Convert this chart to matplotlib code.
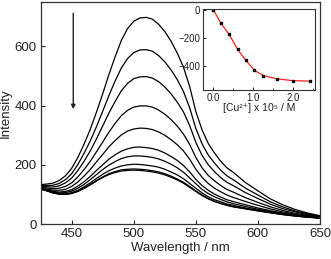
import matplotlib
matplotlib.use("Agg")
import matplotlib.pyplot as plt
from matplotlib.ticker import MultipleLocator

plt.rcParams['font.family'] = ['Liberation Sans', 'DejaVu Sans']

wavelength = [425, 430, 435, 440, 445, 450, 455, 460, 465, 470, 475, 480, 485, 490,
              495, 500, 505, 510, 515, 520, 525, 530, 535, 540, 545, 550, 555, 560,
              565, 570, 575, 580, 590, 600, 610, 620, 630, 640, 650]

spectra = [
    [133, 135, 138, 147, 163, 188, 225, 270, 320, 378, 440, 505, 565, 620, 660, 685, 696, 698, 692, 675, 650, 618, 578, 530, 465, 380, 318, 272, 240, 212, 190, 175, 140, 112, 85, 65, 49, 37, 28],
    [130, 130, 131, 137, 150, 170, 201, 239, 281, 329, 381, 434, 483, 527, 559, 579, 588, 589, 584, 569, 548, 521, 488, 448, 393, 323, 271, 233, 206, 182, 163, 150, 121, 98, 75, 58, 44, 34, 26],
    [127, 126, 125, 129, 139, 155, 181, 212, 247, 288, 331, 375, 414, 450, 475, 491, 497, 498, 493, 481, 463, 440, 412, 379, 333, 276, 232, 200, 177, 157, 141, 130, 106, 86, 67, 52, 41, 32, 25],
    [124, 122, 119, 121, 127, 139, 159, 184, 212, 244, 277, 310, 340, 366, 384, 395, 399, 399, 395, 385, 371, 353, 331, 304, 269, 225, 190, 164, 146, 130, 117, 108, 89, 73, 58, 46, 36, 29, 23],
    [122, 118, 114, 114, 117, 127, 142, 162, 184, 210, 235, 261, 282, 301, 314, 321, 324, 323, 319, 311, 300, 285, 268, 247, 219, 185, 158, 137, 121, 109, 98, 90, 76, 63, 51, 41, 33, 27, 22],
    [120, 116, 110, 108, 110, 116, 128, 143, 161, 181, 200, 219, 234, 246, 254, 259, 260, 258, 255, 249, 240, 228, 215, 198, 176, 151, 130, 114, 101, 91, 82, 76, 65, 54, 45, 37, 30, 25, 21],
    [119, 114, 108, 105, 106, 111, 121, 134, 150, 167, 184, 199, 211, 221, 227, 230, 230, 228, 225, 220, 212, 202, 190, 175, 156, 136, 117, 103, 92, 83, 75, 69, 59, 50, 42, 35, 29, 24, 21],
    [119, 113, 106, 103, 102, 106, 114, 126, 139, 154, 168, 180, 189, 196, 200, 202, 201, 199, 196, 192, 185, 176, 166, 153, 137, 121, 105, 92, 82, 75, 68, 63, 54, 47, 40, 33, 28, 24, 20],
    [118, 112, 105, 101, 100, 104, 111, 121, 134, 147, 159, 170, 177, 183, 185, 186, 185, 183, 180, 176, 170, 162, 152, 141, 127, 112, 98, 86, 77, 70, 64, 59, 52, 45, 38, 32, 27, 23, 20],
    [118, 112, 105, 101, 100, 103, 110, 120, 132, 145, 157, 167, 174, 179, 181, 182, 181, 179, 176, 172, 166, 158, 149, 138, 124, 110, 96, 85, 76, 69, 63, 58, 51, 44, 38, 32, 27, 23, 20],
]

cu_conc = [0.0, 0.19, 0.39, 0.61, 0.82, 1.03, 1.26, 1.59, 2.0, 2.44]
delta_i = [0, -96, -173, -283, -363, -433, -472, -494, -508, -511]

xticks = [450, 500, 550, 600, 650]
yticks = [0, 200, 400, 600]

fig = plt.figure(figsize=(3.31, 2.59), dpi=100)
ax = fig.add_axes([0.1227, 0.1351, 0.9668 - 0.1227, 0.9923 - 0.1351])
for s in spectra:
    ax.plot(wavelength, s, color='black', lw=0.9)
ax.set_xlim(425, 650)
ax.set_ylim(0, 750)
ax.set_xticks(xticks)
ax.set_yticks(yticks)
ax.tick_params(direction='in', length=3, width=0.8, labelsize=9.5, colors='#222222', pad=3)
ax.set_xlabel('Wavelength / nm', fontsize=9.5, color='#222222', labelpad=1)
ax.set_ylabel('Intensity', fontsize=9.5, color='#222222', labelpad=2)
for sp in ax.spines.values():
    sp.set_linewidth(0.9)
    sp.set_color('#333333')

ax.annotate('', xy=(451.3, 388), xytext=(451.3, 712),
            arrowprops=dict(arrowstyle='-|>', color='#222222', lw=1.0,
                            mutation_scale=6, shrinkA=0, shrinkB=0))

ins = fig.add_axes([0.6124, 0.6525, 0.9517 - 0.6124, 0.9653 - 0.6525])
ins.plot(cu_conc, delta_i, color='#ff2020', lw=0.9)
ins.plot(cu_conc, delta_i, 's', color='black', ms=1.6, lw=0)
ins.set_xlim(-0.27, 2.56)
ins.set_ylim(-575, 7)
ins.set_xticks([0.0, 1.0, 2.0])
ins.set_xticklabels(['0.0', '1.0', '2.0'])
ins.xaxis.set_minor_locator(MultipleLocator(0.5))
ins.set_yticks([0, -200, -400])
ins.tick_params(which='both', direction='in', labelsize=7, colors='#222222', pad=2)
ins.tick_params(which='major', length=2.5, width=0.7)
ins.tick_params(which='minor', length=1.5, width=0.6)
ins.set_xlabel('[Cu²⁺] x 10⁵ / M', fontsize=7.5, color='#222222', labelpad=0)
for sp in ins.spines.values():
    sp.set_linewidth(0.8)
    sp.set_color('#333333')

fig.savefig('out.png', dpi=100)
